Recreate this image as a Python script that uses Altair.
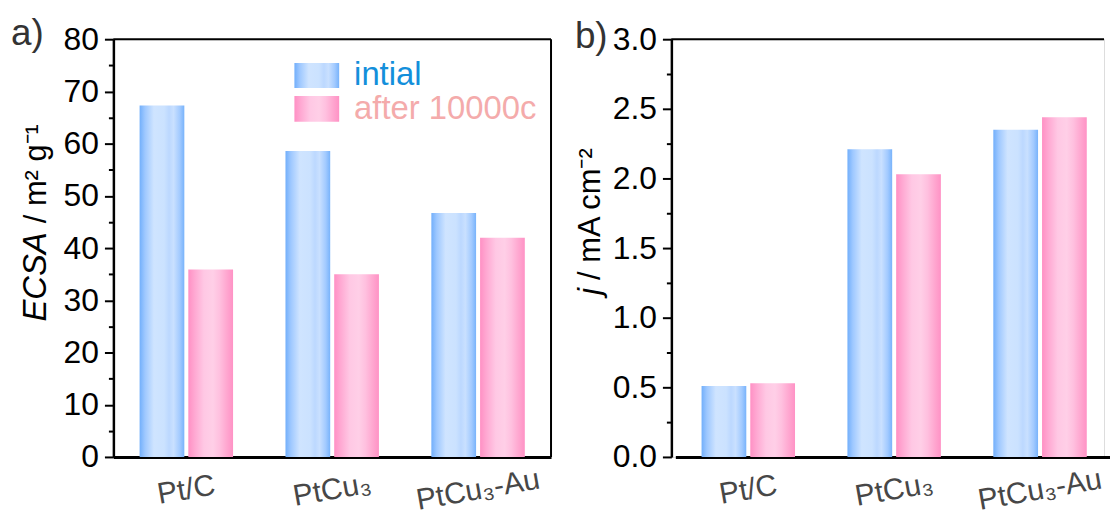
import altair as alt
import pandas as pd

# ---------------- data ----------------
cats = ["Pt/C", "PtCu₃", "PtCu₃-Au"]
series = ["intial", "after 10000c"]
ecsa_initial = [67.3, 58.6, 46.7]
ecsa_after = [35.9, 35.0, 42.0]
j_initial = [0.51, 2.21, 2.35]
j_after = [0.53, 2.03, 2.44]
ecsa_ticks = list(range(0, 81, 5))
j_ticks = [0, 0.25, 0.5, 0.75, 1.0, 1.25, 1.5, 1.75, 2.0, 2.25, 2.5, 2.75, 3.0]

df_a = pd.DataFrame({"cat": cats * 2,
                     "series": [series[0]] * 3 + [series[1]] * 3,
                     "value": ecsa_initial + ecsa_after})
df_b = pd.DataFrame({"cat": cats * 2,
                     "series": [series[0]] * 3 + [series[1]] * 3,
                     "value": j_initial + j_after})

FONT = "Liberation Sans"
W = 440
WB = 435
H = 420

blue_grad = alt.LinearGradient(
    gradient="linear", x1=0, x2=1, y1=0, y2=0,
    stops=[alt.GradientStop(color="#72affb", offset=0),
           alt.GradientStop(color="#9ec8ff", offset=0.12),
           alt.GradientStop(color="#cfe4ff", offset=0.32),
           alt.GradientStop(color="#cbe2ff", offset=0.55),
           alt.GradientStop(color="#bcd8ff", offset=0.66),
           alt.GradientStop(color="#c9e0ff", offset=0.76),
           alt.GradientStop(color="#a2caff", offset=0.9),
           alt.GradientStop(color="#78b3fb", offset=1)])
pink_grad = alt.LinearGradient(
    gradient="linear", x1=0, x2=1, y1=0, y2=0,
    stops=[alt.GradientStop(color="#ff90c4", offset=0),
           alt.GradientStop(color="#ffa8d2", offset=0.14),
           alt.GradientStop(color="#ffc8e4", offset=0.35),
           alt.GradientStop(color="#ffcfe7", offset=0.55),
           alt.GradientStop(color="#ffc0df", offset=0.7),
           alt.GradientStop(color="#ffa7d0", offset=0.86),
           alt.GradientStop(color="#ff92c5", offset=1)])


def panel(df, ydomain, yticks, major_test, fmt, xrange, width, ytitle_it, ytitle_rest,
          title_x, split_y, gap, it_size, rest_size, label, label_x, label_y, frame_right):
    xaxis = alt.Axis(title=None, ticks=False, domainColor="black", domainWidth=3,
                     labelFont=FONT, labelFontSize=30, labelColor="#474747",
                     labelAngle=350, labelAlign="center", labelBaseline="middle",
                     labelPadding=33, labelLimit=0, labelBound=False, grid=False)
    yaxis = alt.Axis(title=None, values=yticks, format=fmt,
                     labelExpr=f"({major_test}) ? datum.label : ''",
                     tickSize={"condition": {"test": major_test, "value": 9}, "value": 5},
                     tickWidth=2, tickColor="black", domainColor="black", domainWidth=2.5,
                     labelFont=FONT, labelFontSize=32, labelColor="black",
                     labelPadding=6, labelOverlap=False, labelFlush=False, grid=False)
    base = alt.Chart(df).encode(
        x=alt.X("cat:N", sort=cats,
                scale=alt.Scale(domain=cats, paddingInner=0, paddingOuter=0, range=xrange),
                axis=xaxis),
        xOffset=alt.XOffset("series:N", sort=series,
                            scale=alt.Scale(domain=series, paddingInner=0.082,
                                            paddingOuter=0.538)),
        y=alt.Y("value:Q", scale=alt.Scale(domain=ydomain, nice=False, zero=True),
                axis=yaxis),
    )
    b1 = base.transform_filter(alt.datum.series == series[0]).mark_bar(fill=blue_grad)
    b2 = base.transform_filter(alt.datum.series == series[1]).mark_bar(fill=pink_grad)

    one = pd.DataFrame({"k": [0]})
    top = alt.Chart(one).mark_rule(color="black", strokeWidth=2).encode(
        x=alt.value(0), x2=alt.value(width), y=alt.value(0))
    layers = [b1, b2, top]
    if frame_right:
        right = alt.Chart(one).mark_rule(color="black", strokeWidth=2).encode(
            x=alt.value(width), y=alt.value(0), y2=alt.value(H))
        layers.append(right)

    t_it = alt.Chart(pd.DataFrame({"t": [ytitle_it]})).mark_text(
        font=FONT, fontSize=it_size, fontStyle="italic", angle=270, align="right",
        baseline="alphabetic", color="black").encode(
        text="t:N", x=alt.value(title_x), y=alt.value(split_y))
    t_rest = alt.Chart(pd.DataFrame({"t": [ytitle_rest]})).mark_text(
        font=FONT, fontSize=rest_size, angle=270, align="left",
        baseline="alphabetic", color="black").encode(
        text="t:N", x=alt.value(title_x), y=alt.value(split_y - gap))
    lab = alt.Chart(pd.DataFrame({"t": [label]})).mark_text(
        font=FONT, fontSize=37, align="left", baseline="middle", color="#333333").encode(
        text="t:N", x=alt.value(label_x), y=alt.value(label_y))
    layers += [t_it, t_rest, lab]
    return layers


layers_a = panel(df_a, [0, 80], ecsa_ticks, "datum.value % 10 === 0", "d", [0, W], W,
                 "ECSA", "/ m² g⁻¹", -68, 194, 9, 33, 31, "a)", -103, -5, True)

# legend (inside panel a)
sw_blue = alt.Chart(pd.DataFrame({"k": [0]})).mark_rect(fill=blue_grad).encode(
    x=alt.value(182), x2=alt.value(227), y=alt.value(24), y2=alt.value(49))
sw_pink = alt.Chart(pd.DataFrame({"k": [0]})).mark_rect(fill=pink_grad).encode(
    x=alt.value(182), x2=alt.value(227), y=alt.value(57), y2=alt.value(83))
lt1 = alt.Chart(pd.DataFrame({"t": [series[0]]})).mark_text(
    font=FONT, fontSize=33, align="left", baseline="middle", color="#138fdb").encode(
    text="t:N", x=alt.value(242), y=alt.value(36))
lt2 = alt.Chart(pd.DataFrame({"t": [series[1]]})).mark_text(
    font=FONT, fontSize=33, align="left", baseline="middle", color="#f4abab").encode(
    text="t:N", x=alt.value(242), y=alt.value(70))

panel_a = alt.layer(*layers_a, sw_blue, sw_pink, lt1, lt2).properties(width=W, height=H)

layers_b = panel(df_b, [0, 3], j_ticks, "datum.value % 0.5 === 0", ".1f", [4, 444], WB,
                 "j", "/ mA cm⁻²", -72, 250, 8, 32, 31, "b)", -97, -2, False)
panel_b = alt.layer(*layers_b).properties(width=WB, height=H)

chart = alt.hconcat(panel_a, panel_b, spacing=20).properties(
    padding={"left": 10, "top": 13, "right": 0, "bottom": 4}
).configure_view(stroke="transparent", strokeWidth=0).configure(background="white")

chart.save("out.html", embed_options={"renderer": "svg", "actions": False})
